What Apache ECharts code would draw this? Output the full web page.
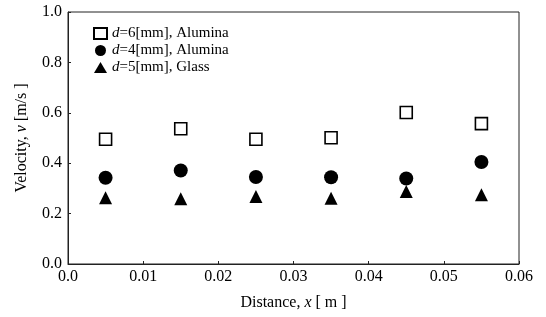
<!DOCTYPE html>
<html>
<head>
<meta charset="utf-8">
<script src="https://cdn.jsdelivr.net/npm/echarts@6/dist/echarts.min.js"></script>
<style>
  html, body { margin: 0; padding: 0; background: #fff; }
  #chart { width: 546px; height: 317px; }
</style>
</head>
<body>
<div id="chart"></div>
<script>
// distance along the tube [m]
const distance = [0.005, 0.015, 0.025, 0.035, 0.045, 0.055];

// velocity [m/s] for each particle type
const aluminaD6 = [0.495, 0.537, 0.495, 0.501, 0.601, 0.557];
const aluminaD4 = [0.342, 0.371, 0.345, 0.344, 0.339, 0.405];
const glassD5 = [0.263, 0.259, 0.268, 0.261, 0.288, 0.275];

const seriesNames = ["d6", "d4", "d5"];
const legendLabels = {
  d6: "{i|d}=6[mm], Alumina",
  d4: "{i|d}=4[mm], Alumina",
  d5: "{i|d}=5[mm], Glass",
};

const serif = "Liberation Serif";
const ink = "#000";

function pairs(ys) {
  return distance.map((x, i) => [x, ys[i]]);
}

function nameStyle(size) {
  return {
    fontFamily: serif,
    fontSize: size,
    color: ink,
    rich: {
      i: { fontFamily: serif, fontSize: size, fontStyle: "italic", color: ink },
    },
  };
}

const chart = echarts.init(document.getElementById("chart"));

const options = {
  animation: false,
  grid: {
    left: 68,
    right: 27,
    top: 12,
    bottom: 53,
    show: true,
    borderColor: "#222",
    borderWidth: 1,
  },
  legend: {
    orient: "vertical",
    left: 88,
    top: 21,
    itemGap: 2,
    itemWidth: 13,
    itemHeight: 11,
    data: seriesNames,
    formatter: (name) => legendLabels[name],
    textStyle: nameStyle(15),
  },
  xAxis: {
    type: "value",
    min: 0,
    max: 0.06,
    interval: 0.01,
    name: "Distance, {i|x} [ m ]",
    nameLocation: "middle",
    nameGap: 31,
    nameTextStyle: nameStyle(16),
    axisLine: { show: true, lineStyle: { color: "#222", width: 1 } },
    axisTick: { show: true, inside: true, length: 3, lineStyle: { color: "#222" } },
    splitLine: { show: false },
    axisLabel: {
      fontFamily: serif,
      fontSize: 16,
      color: ink,
      margin: 5,
      formatter: (v) => (v === 0 ? "0.0" : String(+v.toFixed(2))),
    },
  },
  yAxis: {
    type: "value",
    min: 0,
    max: 1,
    interval: 0.2,
    name: "Velocity, {i|v} [m/s ]",
    nameLocation: "middle",
    nameGap: 38,
    nameTextStyle: nameStyle(16),
    axisLine: { show: true, lineStyle: { color: "#222", width: 1 } },
    axisTick: { show: true, inside: true, length: 3, lineStyle: { color: "#222" } },
    splitLine: { show: false },
    axisLabel: {
      fontFamily: serif,
      fontSize: 16,
      color: ink,
      margin: 6,
      formatter: (v) => v.toFixed(1),
    },
  },
  series: [
    {
      name: "d6",
      type: "scatter",
      data: pairs(aluminaD6),
      symbol: "rect",
      symbolSize: 12,
      itemStyle: { color: "#fff", borderColor: ink, borderWidth: 1.6, opacity: 1 },
    },
    {
      name: "d4",
      type: "scatter",
      data: pairs(aluminaD4),
      symbol: "circle",
      symbolSize: 14,
      itemStyle: { color: ink, opacity: 1 },
    },
    {
      name: "d5",
      type: "scatter",
      data: pairs(glassD5),
      symbol: "triangle",
      symbolSize: 13,
      itemStyle: { color: ink, opacity: 1 },
    },
  ],
};

chart.setOption(options);
</script>
</body>
</html>
